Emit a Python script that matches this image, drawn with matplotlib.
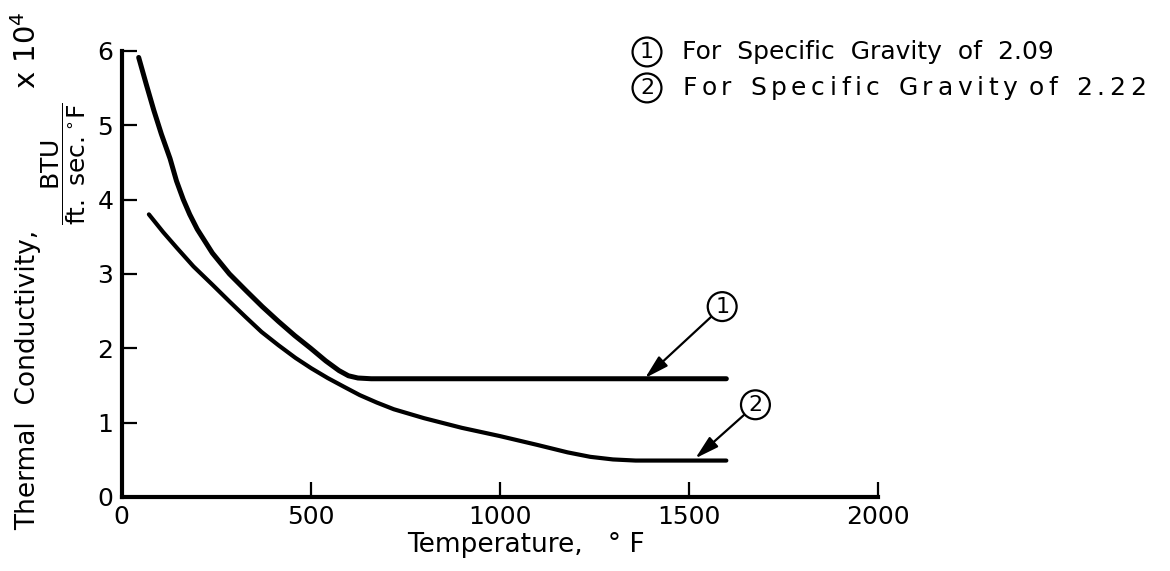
"""
Thermal conductivity against temperature for two specific gravities.
"""
import matplotlib
matplotlib.use('Agg')
import matplotlib.pyplot as plt

# curve 1: specific gravity 2.09
temp_sg209 = [45, 65, 85, 105, 128, 145, 163, 180, 200, 240, 285, 330, 372, 415, 458, 500,
              540, 575, 600, 625, 660, 1000, 1300, 1600]
k_sg209 = [5.91, 5.55, 5.2, 4.88, 4.55, 4.25, 4.0, 3.8, 3.6, 3.28, 3.0, 2.77, 2.56, 2.36, 2.17, 2.0,
           1.83, 1.7, 1.63, 1.6, 1.59, 1.59, 1.59, 1.59]

# curve 2: specific gravity 2.22
temp_sg222 = [72, 110, 146, 190, 241, 285, 328, 370, 415, 460, 502, 545, 589, 630, 675, 720,
              800, 900, 1000, 1100, 1180, 1240, 1300, 1360, 1600]
k_sg222 = [3.8, 3.56, 3.35, 3.1, 2.85, 2.63, 2.42, 2.22, 2.04, 1.87, 1.73, 1.6, 1.48, 1.37, 1.27, 1.18,
           1.06, 0.93, 0.82, 0.7, 0.6, 0.54, 0.505, 0.49, 0.49]

x_ticks = [0, 500, 1000, 1500, 2000]
y_ticks = [0, 1, 2, 3, 4, 5, 6]

legend_1 = 'For  Specific  Gravity  of  2.09'
legend_2 = 'For  Specific  Gravity of  2.22'

plt.rcParams['font.family'] = ['DejaVu Sans']

fig = plt.figure(figsize=(11.7, 5.71), dpi=100)
ax = fig.add_axes([0.104, 0.1296, 0.646, 0.7815])

ax.plot(temp_sg209, k_sg209, color='black', lw=3.6, solid_capstyle='round', solid_joinstyle='round')
ax.plot(temp_sg222, k_sg222, color='black', lw=3.0, solid_capstyle='round', solid_joinstyle='round')

ax.set_xlim(0, 2000)
ax.set_ylim(0, 6)
ax.set_xticks(x_ticks)
ax.set_yticks(y_ticks)
ax.tick_params(direction='in', length=11, width=1.6, labelsize=18, pad=6)
for side in ['top', 'right']:
    ax.spines[side].set_visible(False)
for side in ['left', 'bottom']:
    ax.spines[side].set_linewidth(3)

ax.set_xlabel('Temperature,   ° F', fontsize=19, labelpad=2, x=0.535)

# y label in three pieces so the unit fraction can sit lower than the words
fig.text(0.024, 0.335, 'Thermal  Conductivity,', fontsize=19, rotation=90, ha='center', va='center')
fig.text(0.054, 0.713, r'$\dfrac{\mathrm{BTU}}{\mathrm{ft.\,\,sec.}^{\circ}\mathrm{F}}$',
         fontsize=18, rotation=90, ha='center', va='center')
fig.text(0.023, 0.912, r'x 10$^{4}$', fontsize=21, rotation=90, ha='center', va='center')

circle = dict(boxstyle='circle,pad=0.2', fc='white', ec='black', lw=1.6)
arrow = dict(arrowstyle='-|>,head_length=0.9,head_width=0.25', lw=1.6, color='black',
             shrinkA=0, shrinkB=0)

ax.annotate('1', xy=(1385, 1.6), xytext=(1589, 2.56), fontsize=16, ha='center', va='center',
            bbox=circle, arrowprops=arrow)
ax.annotate('2', xy=(1518, 0.52), xytext=(1677, 1.24), fontsize=16, ha='center', va='center',
            bbox=circle, arrowprops=arrow)

y1, y2 = 0.909, 0.846
fig.text(0.553, y1, '1', fontsize=16, ha='center', va='center', bbox=circle)
fig.text(0.583, y1, legend_1, fontsize=18, ha='left', va='center')
fig.text(0.553, y2, '2', fontsize=16, ha='center', va='center', bbox=circle)

# the second line is lettered wider: set it one character at a time with extra tracking
renderer = fig.canvas.get_renderer()
x_px = 0.583 * fig.bbox.width
space_px = 7
tracking_px = 4.6
for ch in legend_2:
    if ch == ' ':
        x_px += space_px
        continue
    t = fig.text(x_px / fig.bbox.width, y2, ch, fontsize=18, ha='left', va='center')
    x_px += t.get_window_extent(renderer).width + tracking_px

fig.savefig('out.png', dpi=100)
